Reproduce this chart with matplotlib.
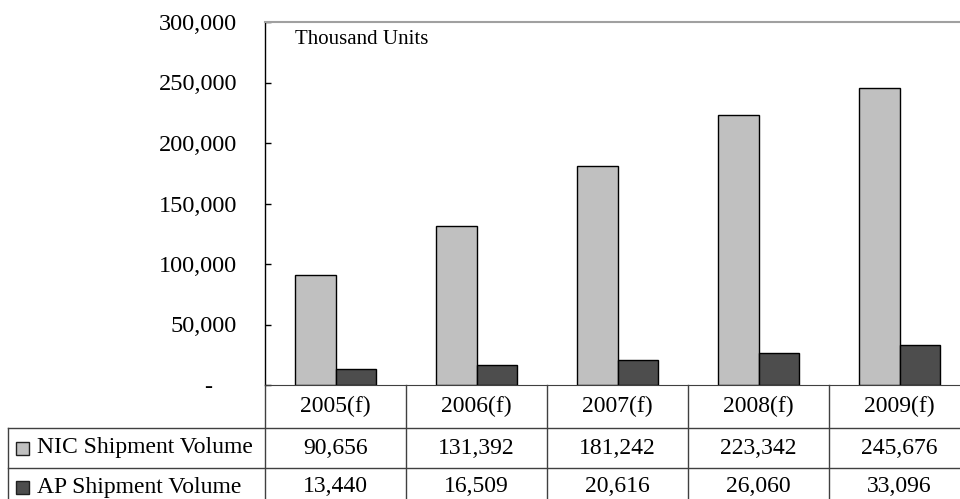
import matplotlib
matplotlib.use('Agg')
import matplotlib.pyplot as plt
import matplotlib.patches as mpatches
import matplotlib.transforms as mtransforms
from matplotlib.lines import Line2D
from matplotlib.ticker import FuncFormatter

plt.rcParams['font.family'] = ['Liberation Serif', 'DejaVu Serif']

# Data (thousand units)
years = ['2005(f)', '2006(f)', '2007(f)', '2008(f)', '2009(f)']
nic_volume = [90656, 131392, 181242, 223342, 245676]
ap_volume = [13440, 16509, 20616, 26060, 33096]
series_names = ['NIC Shipment Volume', 'AP Shipment Volume']
series_colors = ['#c0c0c0', '#4d4d4d']

W, H = 960, 499
fig = plt.figure(figsize=(W / 100, H / 100), dpi=100)
ax = fig.add_axes([265 / W, (H - 385) / H, 705 / W, 363 / H])

# pixel transform, origin top-left of the figure
pix = mtransforms.Affine2D().scale(0.01, -0.01).translate(0, H / 100) + fig.dpi_scale_trans
xdata_ypix = mtransforms.blended_transform_factory(ax.transData, pix)

bw = 0.29
x = list(range(len(years)))
ax.bar([i - bw / 2 for i in x], nic_volume, bw, color=series_colors[0],
       edgecolor='black', linewidth=1)
ax.bar([i + bw / 2 for i in x], ap_volume, bw, color=series_colors[1],
       edgecolor='black', linewidth=1)

ax.set_xlim(-0.5, len(years) - 0.5)
ax.set_ylim(0, 300000)
ax.set_yticks(range(0, 300001, 50000))
ax.yaxis.set_major_formatter(FuncFormatter(
    lambda v, p: '-\u2002\u2002' if v == 0 else f'{int(v):,}'))
ax.tick_params(axis='y', direction='in', length=4.5, width=1, pad=20,
               labelsize=17.5, colors='black')
ax.set_xticks([])
ax.spines['right'].set_visible(False)
ax.spines['top'].set_color('#a0a0a0')
ax.spines['top'].set_linewidth(1.5)
ax.spines['left'].set_linewidth(1)
ax.spines['bottom'].set_color('#404040')

ax.text(295, 40, 'Thousand Units', transform=pix, fontsize=15,
        ha='left', va='center')

# data table below the chart
fs = 17
line_kw = dict(color='#404040', linewidth=1, clip_on=False)
row_lines = [428, 468]
for y in row_lines:
    fig.add_artist(Line2D([8, 980], [y, y], transform=pix, **line_kw))
for b in range(len(years)):
    fig.add_artist(Line2D([b - 0.5, b - 0.5], [385, 510], transform=xdata_ypix, **line_kw))
fig.add_artist(Line2D([8, 8], [428, 510], transform=pix, **line_kw))

row_centers = [406, 448, 487]
for i, yr in enumerate(years):
    ax.text(i, row_centers[0], yr, transform=xdata_ypix, ha='center',
            va='center', fontsize=fs)
    ax.text(i, row_centers[1], f'{nic_volume[i]:,}', transform=xdata_ypix,
            ha='center', va='center', fontsize=fs)
    ax.text(i, row_centers[2], f'{ap_volume[i]:,}', transform=xdata_ypix,
            ha='center', va='center', fontsize=fs)

for k, name in enumerate(series_names):
    yc = row_centers[k + 1]
    fig.add_artist(mpatches.Rectangle((16, yc + 6.5), 13, -13, transform=pix,
                                      facecolor=series_colors[k],
                                      edgecolor='#202020', linewidth=1))
    fig.text(37, yc, name, transform=pix, ha='left', va='center', fontsize=fs)

fig.savefig('out.png', dpi=100)
